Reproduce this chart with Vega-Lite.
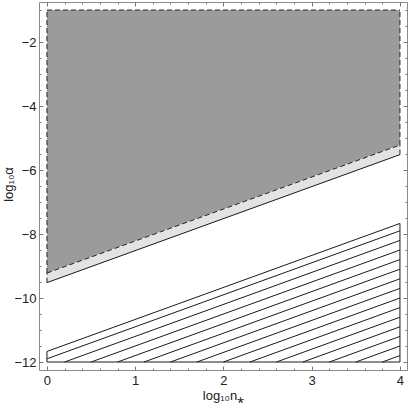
{
  "$schema": "https://vega.github.io/schema/vega-lite/v6.json",
  "width": 368,
  "height": 368,
  "autosize": {"type": "none"},
  "padding": {"left": 39, "top": 2, "right": 2, "bottom": 34},
  "background": "white",
  "config": {
    "view": {"stroke": "#8a8a8a", "strokeWidth": 1},
    "axis": {
      "domain": false,
      "grid": false,
      "tickColor": "#777",
      "tickWidth": 1,
      "labelFont": "Liberation Sans",
      "labelFontSize": 13,
      "labelColor": "#222",
      "titleFont": "Liberation Sans",
      "titleFontSize": 13,
      "titleFontWeight": "normal",
      "titleColor": "#222",
      "labelOverlap": false,
      "labelBound": false,
      "labelFlush": false
    }
  },
  "datasets": {
    "gray": [
      {"n": 0, "lo": -9.22, "hi": -1},
      {"n": 4, "lo": -5.22, "hi": -1}
    ],
    "band": [
      {"n": 0, "lo": -9.52, "hi": -9.22},
      {"n": 4, "lo": -5.52, "hi": -5.22}
    ],
    "dashed": [
      {"n": 0, "a": -1, "n2": 4, "a2": -1},
      {"n": 0, "a": -9.22, "n2": 0, "a2": -1},
      {"n": 4, "a": -5.22, "n2": 4, "a2": -1},
      {"n": 0, "a": -9.22, "n2": 4, "a2": -5.22},
      {"n": 0, "a": -9.52, "n2": 0, "a2": -9.22},
      {"n": 4, "a": -5.52, "n2": 4, "a2": -5.22}
    ],
    "solid": [
      {"n": 0, "a": -9.52, "n2": 4, "a2": -5.52},
      {"n": 0, "a": -12, "n2": 4, "a2": -12},
      {"n": 0, "a": -12, "n2": 0, "a2": -11.67},
      {"n": 4, "a": -12, "n2": 4, "a2": -7.67},
      {"n": 0, "a": -11.67, "n2": 4, "a2": -7.67},
      {"n": 0, "a": -11.9, "n2": 4, "a2": -7.9},
      {"n": 0.2, "a": -12, "n2": 4, "a2": -8.2},
      {"n": 0.5, "a": -12, "n2": 4, "a2": -8.5},
      {"n": 0.8, "a": -12, "n2": 4, "a2": -8.8},
      {"n": 1.1, "a": -12, "n2": 4, "a2": -9.1},
      {"n": 1.4, "a": -12, "n2": 4, "a2": -9.4},
      {"n": 1.7, "a": -12, "n2": 4, "a2": -9.7},
      {"n": 2.0, "a": -12, "n2": 4, "a2": -10.0},
      {"n": 2.3, "a": -12, "n2": 4, "a2": -10.3},
      {"n": 2.6, "a": -12, "n2": 4, "a2": -10.6},
      {"n": 2.9, "a": -12, "n2": 4, "a2": -10.9},
      {"n": 3.2, "a": -12, "n2": 4, "a2": -11.2},
      {"n": 3.5, "a": -12, "n2": 4, "a2": -11.5},
      {"n": 3.8, "a": -12, "n2": 4, "a2": -11.8}
    ]
  },
  "layer": [
    {
      "data": {"name": "gray"},
      "mark": {"type": "area", "color": "#9b9b9b", "opacity": 1},
      "encoding": {
        "x": {
          "field": "n", "type": "quantitative",
          "scale": {"domain": [-0.09, 4.08], "nice": false, "zero": false},
          "axis": {
            "orient": "bottom",
            "title": "log₁₀n⁎",
            "values": [0, 0.2, 0.4, 0.6, 0.8, 1, 1.2, 1.4, 1.6, 1.8, 2, 2.2, 2.4, 2.6, 2.8, 3, 3.2, 3.4, 3.6, 3.8, 4],
            "tickSize": {"condition": {"test": "datum.value % 1 === 0", "value": -4}, "value": -2},
            "labelExpr": "datum.value % 1 === 0 ? toString(datum.value) : ''",
            "labelPadding": 8,
            "titlePadding": 0
          }
        },
        "y": {
          "field": "lo", "type": "quantitative",
          "scale": {"domain": [-12.25, -0.75], "nice": false, "zero": false},
          "axis": {
            "orient": "left",
            "title": "log₁₀α",
            "values": [-12, -11.5, -11, -10.5, -10, -9.5, -9, -8.5, -8, -7.5, -7, -6.5, -6, -5.5, -5, -4.5, -4, -3.5, -3, -2.5, -2, -1.5, -1],
            "tickSize": {"condition": {"test": "datum.value % 2 === 0", "value": -4}, "value": -2},
            "labelExpr": "datum.value % 2 === 0 ? replace(toString(datum.value), '-', '−') : ''",
            "labelPadding": 7,
            "titleX": -24,
            "titleY": 182
          }
        },
        "y2": {"field": "hi"}
      }
    },
    {
      "data": {"name": "band"},
      "mark": {"type": "area", "color": "#e3e3e3", "opacity": 1},
      "encoding": {
        "x": {
          "field": "n", "type": "quantitative",
          "scale": {"domain": [-0.09, 4.08], "nice": false, "zero": false},
          "axis": {
            "orient": "top",
            "title": null,
            "labels": false,
            "values": [0, 0.2, 0.4, 0.6, 0.8, 1, 1.2, 1.4, 1.6, 1.8, 2, 2.2, 2.4, 2.6, 2.8, 3, 3.2, 3.4, 3.6, 3.8, 4],
            "tickSize": {"condition": {"test": "datum.value % 1 === 0", "value": -4}, "value": -2}
          }
        },
        "y": {
          "field": "lo", "type": "quantitative",
          "scale": {"domain": [-12.25, -0.75], "nice": false, "zero": false},
          "axis": {
            "orient": "right",
            "title": null,
            "labels": false,
            "values": [-12, -11.5, -11, -10.5, -10, -9.5, -9, -8.5, -8, -7.5, -7, -6.5, -6, -5.5, -5, -4.5, -4, -3.5, -3, -2.5, -2, -1.5, -1],
            "tickSize": {"condition": {"test": "datum.value % 2 === 0", "value": -4}, "value": -2}
          }
        },
        "y2": {"field": "hi"}
      }
    },
    {
      "data": {"name": "dashed"},
      "mark": {"type": "rule", "color": "#222", "strokeWidth": 1, "strokeDash": [5, 3]},
      "encoding": {
        "x": {"field": "n", "type": "quantitative", "scale": {"domain": [-0.09, 4.08], "nice": false, "zero": false}, "axis": null},
        "y": {"field": "a", "type": "quantitative", "scale": {"domain": [-12.25, -0.75], "nice": false, "zero": false}, "axis": null},
        "x2": {"field": "n2"},
        "y2": {"field": "a2"}
      }
    },
    {
      "data": {"name": "solid"},
      "mark": {"type": "rule", "color": "#1a1a1a", "strokeWidth": 1},
      "encoding": {
        "x": {"field": "n", "type": "quantitative", "scale": {"domain": [-0.09, 4.08], "nice": false, "zero": false}, "axis": null},
        "y": {"field": "a", "type": "quantitative", "scale": {"domain": [-12.25, -0.75], "nice": false, "zero": false}, "axis": null},
        "x2": {"field": "n2"},
        "y2": {"field": "a2"}
      }
    }
  ],
  "resolve": {"axis": {"x": "independent", "y": "independent"}}
}
